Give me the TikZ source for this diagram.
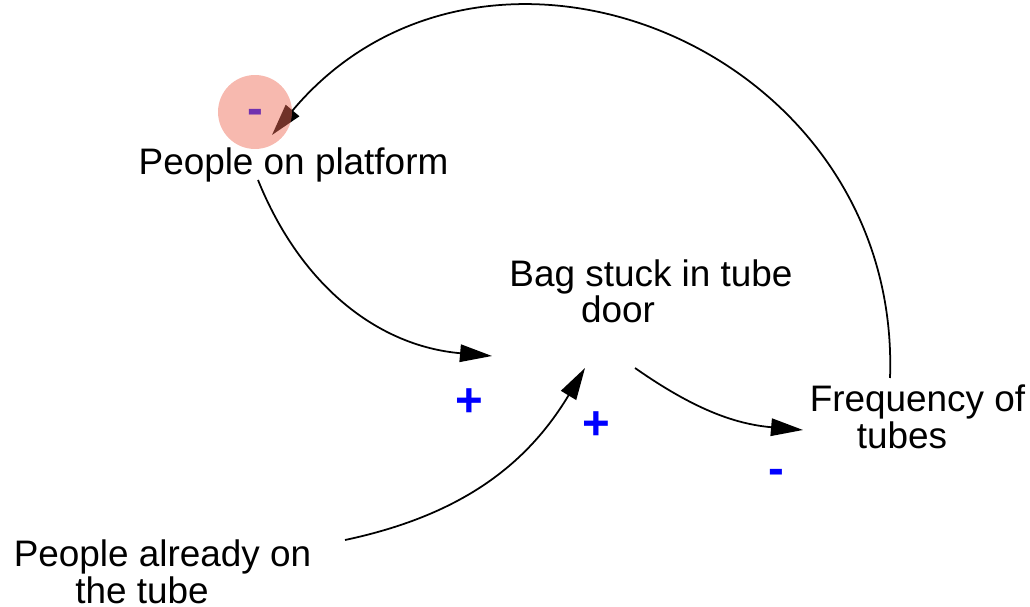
\documentclass[tikz,border=0pt]{standalone}
\usepackage{fontspec}
\setmainfont{Liberation Sans}
\usetikzlibrary{arrows.meta}

\definecolor{salmon}{RGB}{238,106,85}

\begin{document}
\begin{tikzpicture}[x=0.02cm,y=0.02cm,
                    link/.style={-{Triangle[length=0.64cm,width=0.35cm]},line width=1pt}]
  \tikzstyle{var}=[anchor=base, align=center, inner sep=0pt, font=\fontsize{21}{21}\selectfont]
  \tikzstyle{polarity}=[inner sep=0pt, text=blue, font=\fontsize{27}{27}\selectfont\bfseries]
  \tikzstyle{hilite}=[circle, inner sep=0pt, minimum size=1.48cm, fill=salmon, fill opacity=0.47]

 \useasboundingbox (0,0) rectangle (1030,-607);

 % base of a two-line variable is its second line
 \node[var] (platform) at (293.5,-175) {People on platform};
 \node[var] (bag) at (651,-323) {Bag stuck in tube\\door\hspace*{1.32cm}};
 \node[var] (freq) at (917.5,-448) {Frequency of\\tubes\hspace*{0.62cm}};
 \node[var] (ontube) at (162.5,-603) {People already on\\the tube\hspace*{0.82cm}};

 % causal links
 \draw[link] ([shift={(-35.5,-5)}]platform.base) to[out=-68,in=175] ([shift={(-159,-33)}]bag.base);
 \draw[link] ([shift={(182.5,63)}]ontube.base) to[out=12,in=239] ([shift={(-66,-45)}]bag.base);
 \draw[link] ([shift={(-16,-45)}]bag.base) to[out=-35,in=175] ([shift={(-114.5,18)}]freq.base);
 \draw[link] ([shift={(-27.5,70)}]freq.base) to[out=88,in=50,looseness=1.28] ([shift={(-21.5,40)}]platform.base);

 % link polarities
 \node[polarity] (p1) at (469,-403) {+};
 \node[polarity] (p2) at (596,-426) {+};
 \node[polarity] (p3) at (776,-477) {-};
 \node[polarity] (p4) at (255,-117) {-};

 \node[hilite] (focus) at (255,-112) {};

\end{tikzpicture}
\end{document}
